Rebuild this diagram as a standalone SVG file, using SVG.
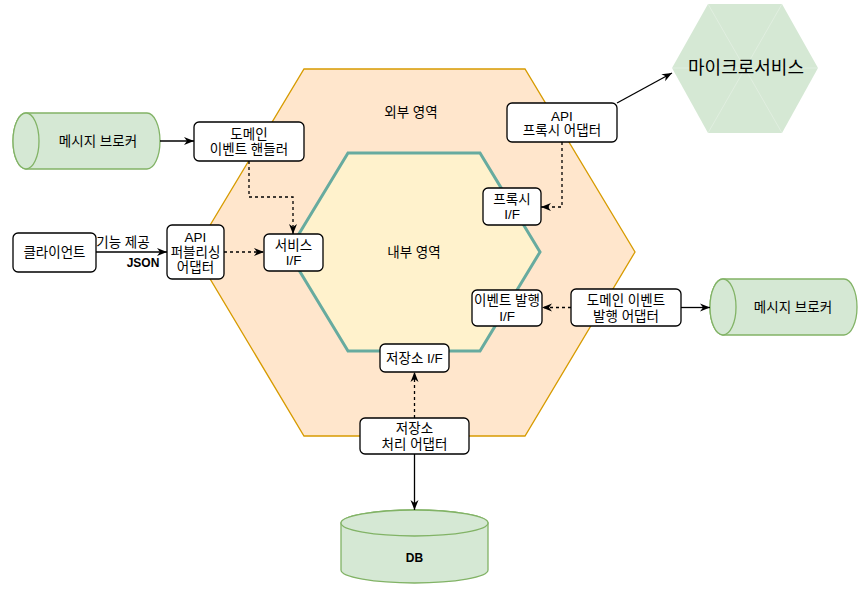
<svg xmlns="http://www.w3.org/2000/svg" width="862" height="590" viewBox="0 0 862 590">
<style>
text{font-family:"Liberation Sans","Noto Sans CJK KR",sans-serif;font-size:12px;fill:#000;text-anchor:middle;dominant-baseline:central}
.k{font-size:13.5px}
.box{fill:#fff;stroke:#000;stroke-width:1.3}
.green{fill:#d5e8d4;stroke:#82b366;stroke-width:1.3}
.ln{fill:none;stroke:#000;stroke-width:1.3}
.dash{fill:none;stroke:#000;stroke-width:1.3;stroke-dasharray:3,3}
.b{font-weight:bold}
</style>
<defs>
<marker id="arr" viewBox="0 0 10 10" refX="10" refY="5" markerWidth="10" markerHeight="10" orient="auto" markerUnits="userSpaceOnUse">
<path d="M0,1 L10,5 L0,9 L3,5 z" fill="#000"/>
</marker>
</defs>
<g id="outer-area">
<polygon points="304,69 525,69 635,252 525,436 304,436 194,252" fill="#ffe6cc" stroke="#d79b00" stroke-width="1.3"/>
<text x="411" y="112" class="k">외부 영역</text>
</g>
<g id="inner-area">
<polygon points="348,153 480,153 540,252 480,351 348,351 288,252" fill="#fff2cc" stroke="#67ab9f" stroke-width="3"/>
<text x="414" y="252" class="k">내부 영역</text>
</g>
<g id="microservice">
<polygon points="708,4 782,4 818,68 782,133 708,133 672,68" fill="#d5e8d4" stroke="none"/>
<path d="M708,4 L782,133 M782,4 L708,133 M672,68 L818,68" stroke="#fff" stroke-opacity="0.35" stroke-width="0.8" fill="none"/>
<text x="746" y="68" style="font-size:18px">마이크로서비스</text>
</g>
<g id="broker-left">
<path class="green" d="M26,113 L147,113 A13,28 0 0 1 147,169 L26,169 A13,28 0 0 1 26,113 z"/>
<ellipse class="green" cx="26" cy="141" rx="13" ry="28"/>
<text x="98" y="141" class="k">메시지 브로커</text>
</g>
<g id="broker-right">
<path class="green" d="M723,279 L844,279 A13,28 0 0 1 844,335 L723,335 A13,28 0 0 1 723,279 z"/>
<ellipse class="green" cx="723" cy="307" rx="13" ry="28"/>
<text x="793" y="307" class="k">메시지 브로커</text>
</g>
<g id="db">
<path class="green" d="M341,523 A73.5,13 0 0 1 488,523 L488,570 A73.5,13 0 0 1 341,570 z"/>
<ellipse class="green" cx="414.5" cy="523" rx="73.5" ry="13"/>
<text x="414.5" y="558" class="b">DB</text>
</g>
<g id="domain-event-handler">
<rect class="box" x="194" y="122" width="110" height="39" rx="5"/>
<text x="249" y="134" class="k">도메인</text>
<text x="249" y="149" class="k">이벤트 핸들러</text>
</g>
<g id="client">
<rect class="box" x="13" y="233" width="83" height="39" rx="5"/>
<text x="54.5" y="252.5" class="k">클라이언트</text>
</g>
<g id="api-publishing-adapter">
<rect class="box" x="167" y="225" width="57" height="54" rx="5"/>
<text x="195.5" y="237" class="k">API</text>
<text x="195.5" y="252" class="k">퍼블리싱</text>
<text x="195.5" y="267" class="k">어댑터</text>
</g>
<g id="service-if">
<rect class="box" x="264" y="234" width="59" height="37" rx="5"/>
<text x="293.5" y="245" class="k">서비스</text>
<text x="293.5" y="260" class="k">I/F</text>
</g>
<g id="api-proxy-adapter">
<rect class="box" x="507" y="103" width="110" height="39" rx="5"/>
<text x="562" y="116" class="k">API</text>
<text x="562" y="130" class="k">프록시 어댑터</text>
</g>
<g id="proxy-if">
<rect class="box" x="483" y="188" width="58" height="37" rx="5"/>
<text x="512" y="199" class="k">프록시</text>
<text x="512" y="214" class="k">I/F</text>
</g>
<g id="event-publishing-if">
<rect class="box" x="472" y="290" width="70" height="36" rx="5"/>
<text x="507" y="300" class="k">이벤트 발행</text>
<text x="507" y="316" class="k">I/F</text>
</g>
<g id="domain-event-publishing-adapter">
<rect class="box" x="571" y="289" width="110" height="37" rx="5"/>
<text x="626" y="300" class="k">도메인 이벤트</text>
<text x="626" y="316" class="k">발행 어댑터</text>
</g>
<g id="storage-if">
<rect class="box" x="380" y="344" width="69" height="28" rx="5"/>
<text x="414.5" y="358" class="k">저장소 I/F</text>
</g>
<g id="storage-adapter">
<rect class="box" x="360" y="418" width="109" height="36" rx="5"/>
<text x="414.5" y="428" class="k">저장소</text>
<text x="414.5" y="444" class="k">처리 어댑터</text>
</g>
<g id="connectors">
<line class="ln" x1="160" y1="141" x2="194" y2="141" marker-end="url(#arr)"/>
<line class="ln" x1="96" y1="252" x2="167" y2="252" marker-end="url(#arr)"/>
<text x="123" y="242" class="k">기능 제공</text>
<text x="143" y="263" class="b">JSON</text>
<line class="dash" x1="224" y1="252" x2="264" y2="252" marker-end="url(#arr)"/>
<polyline class="dash" points="249,161 249,197 293,197 293,234" marker-end="url(#arr)"/>
<line class="ln" x1="617" y1="103" x2="672" y2="73" marker-end="url(#arr)"/>
<polyline class="dash" points="562,142 562,207 541,207" marker-end="url(#arr)"/>
<line class="dash" x1="571" y1="307.5" x2="542" y2="307.5" marker-end="url(#arr)"/>
<line class="ln" x1="681" y1="307.5" x2="710" y2="307.5" marker-end="url(#arr)"/>
<line class="dash" x1="414.5" y1="418" x2="414.5" y2="372" marker-end="url(#arr)"/>
<line class="ln" x1="414.5" y1="454" x2="414.5" y2="510" marker-end="url(#arr)"/>
</g>
</svg>
